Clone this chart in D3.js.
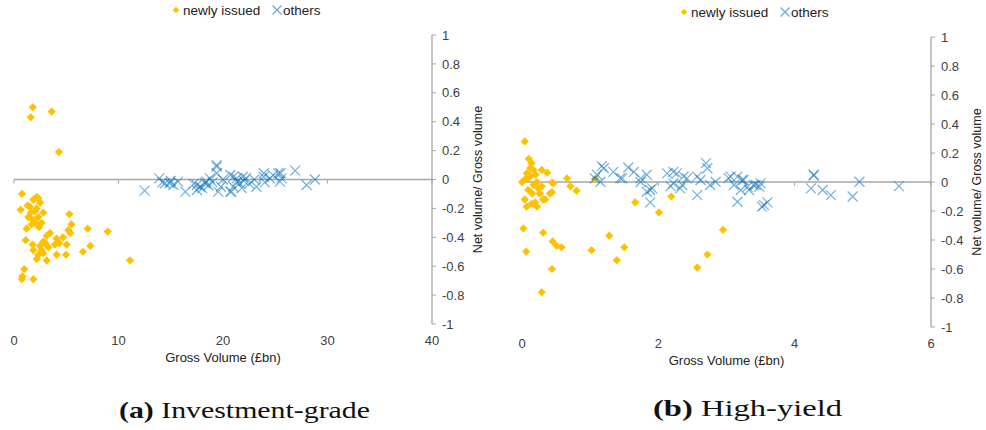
<!DOCTYPE html>
<html><head><meta charset="utf-8">
<script src="https://cdn.jsdelivr.net/npm/d3@7"></script>
<style>
body{margin:0;background:#fff;}
svg{display:block;}
</style></head>
<body>
<svg id="c" width="986" height="430"></svg>
<script>
// ---------- DATA ----------
const legendLabels = ["newly issued", "others"];
const yTicks = [1, 0.8, 0.6, 0.4, 0.2, 0, -0.2, -0.4, -0.6, -0.8, -1];
const igXTicks = [0, 10, 20, 30, 40];
const hyXTicks = [0, 2, 4, 6];
const xTitle = "Gross Volume (£bn)";
const yTitle = "Net volume/ Gross volume";
const captions = [["(a)", " Investment-grade"], ["(b)", " High-yield"]];

// Investment-grade: newly issued [gross volume, net/gross]
const igNew = [[1.8,0.50],[1.6,0.43],[3.6,0.47],[4.3,0.19],
[0.77,-0.10],[2.17,-0.12],[1.85,-0.14],[2.33,-0.13],[0.64,-0.21],[1.53,-0.19],[2.17,-0.20],[2.8,-0.23],[1.37,-0.26],[1.85,-0.28],[2.33,-0.26],[2.65,-0.30],[2.0,-0.30],[1.21,-0.34],[5.3,-0.24],[5.5,-0.31],[5.2,-0.35],[5.4,-0.37],[7.05,-0.34],[8.97,-0.36],[3.45,-0.37],[3.13,-0.39],[2.8,-0.43],[4.08,-0.41],[4.7,-0.40],[4.33,-0.44],[3.92,-0.45],[1.12,-0.42],[1.79,-0.45],[5.04,-0.45],[7.3,-0.46],[1.85,-0.49],[2.65,-0.49],[2.33,-0.52],[2.8,-0.51],[3.13,-0.56],[2.17,-0.55],[4.08,-0.52],[4.98,-0.52],[6.6,-0.50],[11.1,-0.56],[0.99,-0.62],[0.8,-0.67],[1.85,-0.69],[0.75,-0.69],
[1.3,-0.18],[2.5,-0.16],[1.6,-0.23],[2.0,-0.22],[3.0,-0.44],[3.3,-0.47],[2.5,-0.46],[1.7,-0.31],[2.4,-0.33]];
// Investment-grade: others
const igOth = [[12.5,-0.077],[13.9,0.008],[14.45,-0.026],[14.9,-0.026],[15.7,-0.015],[15.25,-0.038],[16.4,-0.084],[17.5,-0.038],[17.8,-0.05],[18.3,-0.026],[18.75,0.008],[19.4,0.089],[19.4,0.043],[19.55,-0.084],[20.7,0.031],[21.3,0.008],[21.9,0.019],[20.98,-0.05],[21.6,-0.026],[20.7,-0.084],[23.2,-0.05],[23.9,0.043],[24.5,0.008],[25.5,0.043],[25.6,0.008],[26.9,0.061],[19.4,0.10],[17.5,-0.073],[18.4,-0.015],[21.3,-0.015],[20.8,-0.084],[23.9,0.019],[25.3,0.043],[25.45,-0.015],[28.0,-0.038],[28.8,0.0],[15.0,-0.01],[14.2,-0.02],[18.0,-0.06],[19.0,-0.02],[20.0,0.0],[21.0,0.02],[22.2,0.01],[22.5,-0.03],[23.0,0.0],[24.0,-0.02],[24.8,0.03],[18.6,-0.04],[17.2,-0.03],[21.8,-0.06],[19.8,-0.05],[22.0,-0.01]];
// High-yield: newly issued
const hyNew = [[0.02,-0.32],[0.06,-0.48],[0.31,-0.35],[0.45,-0.41],[0.51,-0.44],[0.58,-0.45],[0.44,-0.60],[0.29,-0.76],[1.02,-0.47],[1.28,-0.37],[1.39,-0.54],[1.5,-0.45],[1.66,-0.14],[2.01,-0.21],[2.19,-0.10],[2.57,-0.59],[2.72,-0.50],[2.95,-0.33],[0.66,0.025],[0.71,-0.03],[0.80,-0.06],[1.07,0.02],
[0.04,-0.12],[0.07,-0.17],[0.14,-0.15],[0.19,-0.14],[0.22,-0.17],[0.31,-0.12],[0.41,-0.08],[0.46,-0.01],[0.26,-0.08],[0.29,-0.03],[0.17,-0.02],[0.0,0.0],[0.09,-0.055],
[0.04,0.28],[0.10,0.16],[0.14,0.13],[0.12,0.095],[0.07,0.06],[0.17,0.083],[0.29,0.083],[0.37,0.064],[0.09,0.025],[0.22,0.0],[0.44,-0.005],[0.34,-0.12],[0.44,-0.07],[0.24,-0.045],[0.12,0.04],[0.05,0.02],[0.15,-0.08],[0.2,0.05]];
// High-yield: others
const hyOth = [[1.17,0.11],[1.1,0.05],[1.34,0.07],[1.56,0.10],[1.64,0.07],[1.83,0.05],[2.13,0.06],[2.22,0.07],[2.70,0.13],[2.72,0.095],[2.57,0.037],[3.06,0.037],[3.16,0.037],[4.28,0.044],[4.95,0.002],
[1.07,0.025],[1.15,0.002],[1.47,0.025],[1.74,0.025],[1.83,-0.067],[1.91,-0.044],[1.88,-0.14],[2.18,-0.028],[2.35,-0.021],[2.42,0.025],[2.57,-0.09],[2.62,0.014],[2.76,-0.021],[2.84,0.002],[3.11,-0.021],[3.21,-0.055],[3.16,-0.136],[3.33,-0.055],[3.40,-0.021],[3.48,-0.032],[3.52,-0.17],[3.6,-0.14],[4.24,-0.044],[4.41,-0.055],[4.53,-0.09],[4.85,-0.10],[5.53,-0.028],[1.2,0.095],[1.44,0.027],[1.74,0.0],[1.88,-0.055],[2.27,0.06],[2.37,0.037],[2.22,-0.01],[2.32,-0.044],[3.03,0.027],[3.23,0.014],[3.31,-0.032],[3.43,-0.02],[3.50,-0.009],[3.55,-0.16],[3.25,0.014],[4.28,0.05]];

// ---------- STYLE ----------
const YEL = "#FFC000", BLUE = "#0070C0", AXC = "#a6a6a6", TXT = "#404040";
const sans = "'Liberation Sans', Arial, sans-serif";
const serif = "'Liberation Serif', 'Times New Roman', serif";

const svg = d3.select("#c");
const diamond = d3.symbol().type(d3.symbolSquare).size(34);
const crossPath = r => `M${-r},${-r}L${r},${r}M${-r},${r}L${r},${-r}`;

function panel(cfg){
  const x = d3.scaleLinear().domain(cfg.xDomain).range(cfg.xRange);
  const y = d3.scaleLinear().domain([-1, 1]).range(cfg.yRange);
  const g = svg.append("g");

  // zero line (x axis) with downward ticks
  g.append("line").attr("x1", x(cfg.xDomain[0])).attr("x2", x(cfg.xDomain[1]))
    .attr("y1", y(0)).attr("y2", y(0)).attr("stroke", AXC).attr("stroke-width", 1.3);
  g.selectAll(".xt").data(cfg.xTicks).join("line")
    .attr("x1", d => x(d)).attr("x2", d => x(d))
    .attr("y1", y(0)).attr("y2", y(0) + 4).attr("stroke", AXC).attr("stroke-width", 1);
  // x tick labels at bottom
  g.selectAll(".xl").data(cfg.xTicks).join("text")
    .attr("x", d => x(d)).attr("y", cfg.xLabelY)
    .attr("text-anchor", "middle").attr("font-family", sans).attr("font-size", 13)
    .attr("fill", TXT).text(d => d);
  g.append("text").attr("x", (cfg.xRange[0] + cfg.xRange[1]) / 2).attr("y", cfg.xLabelY + 17)
    .attr("text-anchor", "middle").attr("font-family", sans).attr("font-size", 13)
    .attr("fill", "#222").text(xTitle);

  // y axis on the right
  const ax = x(cfg.xDomain[1]);
  g.append("line").attr("x1", ax).attr("x2", ax).attr("y1", y(1)).attr("y2", y(-1))
    .attr("stroke", AXC).attr("stroke-width", 1.3);
  g.selectAll(".yt").data(yTicks).join("line")
    .attr("x1", ax).attr("x2", ax + 4).attr("y1", d => y(d)).attr("y2", d => y(d))
    .attr("stroke", AXC).attr("stroke-width", 1);
  g.selectAll(".yl").data(yTicks).join("text")
    .attr("x", ax + 10).attr("y", d => y(d)).attr("dy", "0.36em")
    .attr("font-family", sans).attr("font-size", 13).attr("fill", TXT).text(d => d);
  g.append("text")
    .attr("transform", `translate(${ax + 50},${y(0)}) rotate(-90)`)
    .attr("text-anchor", "middle").attr("font-family", sans).attr("font-size", 12.5)
    .attr("fill", "#222").text(yTitle);

  // points
  g.selectAll(".n").data(cfg.newly).join("path")
    .attr("d", diamond)
    .attr("transform", d => `translate(${x(d[0])},${y(d[1])}) rotate(45)`)
    .attr("fill", YEL);
  g.selectAll(".o").data(cfg.others).join("path")
    .attr("d", crossPath(5))
    .attr("transform", d => `translate(${x(d[0])},${y(d[1])})`)
    .attr("fill", "none").attr("stroke", BLUE).attr("stroke-width", 1.2).attr("stroke-opacity", 0.55);

  // legend
  const lg = g.append("g").attr("transform", `translate(${cfg.legendX},${cfg.legendY})`);
  lg.append("path").attr("d", d3.symbol().type(d3.symbolSquare).size(22))
    .attr("transform", "rotate(45)").attr("fill", YEL);
  lg.append("text").attr("x", 7).attr("y", 0).attr("dy", "0.36em")
    .attr("font-family", sans).attr("font-size", 13.5).attr("fill", "#222").text(legendLabels[0]);
  lg.append("path").attr("d", crossPath(4.5)).attr("transform", "translate(101,0)")
    .attr("fill", "none").attr("stroke", BLUE).attr("stroke-width", 1.2).attr("stroke-opacity", 0.6);
  lg.append("text").attr("x", 107).attr("y", 0).attr("dy", "0.36em")
    .attr("font-family", sans).attr("font-size", 13.5).attr("fill", "#222").text(legendLabels[1]);

  // caption
  const cap = svg.append("text").attr("x", cfg.capX).attr("y", cfg.capY)
    .attr("font-family", serif).attr("font-size", 24).attr("fill", "#111")
    .attr("textLength", cfg.capW).attr("lengthAdjust", "spacingAndGlyphs");
  cap.append("tspan").attr("font-weight", "bold").text(cfg.caption[0]);
  cap.append("tspan").text(cfg.caption[1]);
}

panel({xDomain:[0,40], xRange:[14,432], yRange:[324,35], xTicks:igXTicks, xLabelY:345,
  newly:igNew, others:igOth, legendX:176, legendY:10, caption:captions[0], capX:119, capY:418, capW:251});
panel({xDomain:[0,6], xRange:[522,931], yRange:[327,37], xTicks:hyXTicks, xLabelY:348,
  newly:hyNew, others:hyOth, legendX:684, legendY:12, caption:captions[1], capX:653, capY:416, capW:189});
</script>
</body></html>
